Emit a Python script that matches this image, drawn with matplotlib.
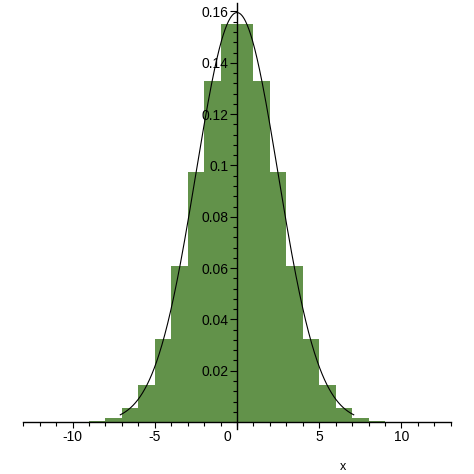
import numpy as np
import matplotlib
matplotlib.use("Agg")
import matplotlib.pyplot as plt
from matplotlib.ticker import MultipleLocator

plt.rcParams['font.family'] = ['Liberation Sans', 'DejaVu Sans']

# Histogram bars (centres and heights)
bar_centers = [-8.5, -7.5, -6.5, -5.5, -4.5, -3.5, -2.5, -1.5, -0.5,
               0.5, 1.5, 2.5, 3.5, 4.5, 5.5, 6.5, 7.5, 8.5]
bar_heights = [0.0004, 0.0016, 0.0053, 0.0143, 0.0322, 0.0609, 0.0974, 0.1328, 0.1550,
               0.1550, 0.1328, 0.0974, 0.0609, 0.0322, 0.0143, 0.0053, 0.0016, 0.0004]

# Overlaid normal density curve parameters
curve_mu = 0.0
curve_sigma = 2.5
curve_range = (-7.1, 7.1)

x_major = [-10, -5, 5, 10]
y_major = [0.02, 0.04, 0.06, 0.08, 0.1, 0.12, 0.14, 0.16]
y_labels = ['0.02', '0.04', '0.06', '0.08', '0.1', '0.12', '0.14', '0.16']

W = H = 474
fig = plt.figure(figsize=(W / 100, H / 100), dpi=100)
left_px, right_px = 23.3, 450.7
bot_px, top_px = 429.0, 3.0
ax = fig.add_axes([left_px / W, 1 - bot_px / H, (right_px - left_px) / W, (bot_px - top_px) / H])

ax.set_xlim(-13.0, 13.0)
ax.set_ylim(-0.0027, 0.1633)

ax.bar(bar_centers, bar_heights, width=1.0, color='#62924a', linewidth=0, zorder=1)

xs = np.linspace(curve_range[0], curve_range[1], 400)
ys = np.exp(-0.5 * ((xs - curve_mu) / curve_sigma) ** 2) / (curve_sigma * np.sqrt(2 * np.pi))
ax.plot(xs, ys, color='black', linewidth=0.8, zorder=3)

for s in ['top', 'right']:
    ax.spines[s].set_visible(False)
ax.spines['left'].set_position(('data', 0))
ax.spines['bottom'].set_position(('data', 0))
for s in ['left', 'bottom']:
    ax.spines[s].set_linewidth(1.0)
    ax.spines[s].set_zorder(4)

ax.set_xticks(x_major)
ax.set_xticklabels([str(v) for v in x_major])
ax.xaxis.set_minor_locator(MultipleLocator(1))
ax.set_yticks(y_major)
ax.set_yticklabels(y_labels)
ax.yaxis.set_minor_locator(MultipleLocator(0.004))

ax.tick_params(axis='x', which='major', direction='out', length=4, width=0.8, labelsize=10, pad=2)
ax.tick_params(axis='x', which='minor', direction='out', length=3, width=0.8)
ax.tick_params(axis='y', which='major', direction='out', length=5, width=0.8, labelsize=10, pad=1)
ax.tick_params(axis='y', which='minor', direction='out', length=3, width=0.8)

ax.text(-0.35, -0.003, '0', ha='right', va='top', fontsize=10)
fig.text(343 / W, 1 - 467 / H, 'x', ha='center', va='center', fontsize=9)

fig.savefig('out.png', dpi=100)
